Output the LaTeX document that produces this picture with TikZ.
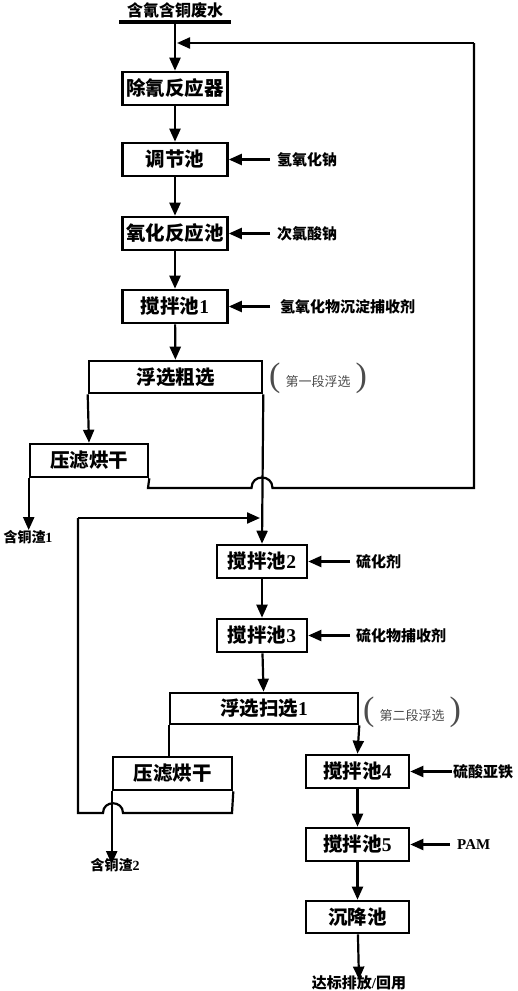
\documentclass[tikz,border=0pt]{standalone}
\usepackage{fontspec}
\newfontfamily\cjk{Noto Sans CJK SC}
\newfontfamily\tms{Liberation Serif}
\usetikzlibrary{arrows.meta}
\newcommand\dgt[1]{{\tms\bfseries #1}}
\newcommand\boxfont{\fontsize{19.5}{19.5}\selectfont\cjk\bfseries}
\newcommand\labfont{\fontsize{15}{15}\selectfont\cjk\bfseries}
\newcommand\notefont{\fontsize{13}{13}\selectfont\cjk}
\newcommand\parfont{\fontsize{34}{34}\selectfont\tms}
\begin{document}
\begin{tikzpicture}[x=1pt,y=-1pt,
  box/.style={draw,line width=2.6pt,inner sep=0pt,font=\boxfont},
  arr/.style={line width=2.2pt,-{Triangle[length=13pt,width=11pt]}},
  ln/.style={line width=2.2pt},
  lab/.style={font=\labfont,inner sep=0pt,anchor=west},
  note/.style={inner sep=0pt,text=black!70}]
\useasboundingbox[fill=white] (0,0) rectangle (517,991);

% title
\node[font=\fontsize{16}{16}\selectfont\cjk\bfseries,inner sep=0pt] (t) at (175,10) {含氰含铜废水};
\coordinate (tl) at (119,22);
\coordinate (tr) at (231,22);
\coordinate (tu) at (175,22);
\draw[line width=3.2pt] (tl) -- (tr);

% boxes column 1
\node[box,minimum width=105pt,minimum height=33pt] (b1) at (175,88.5) {除氰反应器};
\node[box,minimum width=105pt,minimum height=33pt] (b2) at (175,159.5) {调节池};
\node[box,minimum width=105pt,minimum height=33pt] (b3) at (175,233.5) {氧化反应池};
\node[box,minimum width=105pt,minimum height=33pt] (b4) at (175,306.5) {搅拌池\dgt{1}};
\node[box,minimum width=173pt,minimum height=32pt] (b5) at (175.5,377) {浮选粗选};
\node[box,minimum width=118pt,minimum height=33pt] (b6) at (89,460.5) {压滤烘干};

% column 2
\node[box,minimum width=90pt,minimum height=33pt] (b7) at (262,561.5) {搅拌池\dgt{2}};
\node[box,minimum width=90pt,minimum height=33pt] (b8) at (262,635.5) {搅拌池\dgt{3}};
\node[box,minimum width=188pt,minimum height=31pt] (b9) at (264,708.5) {浮选扫选\dgt{1}};
\node[box,minimum width=119pt,minimum height=33pt] (b10) at (172.5,773.5) {压滤烘干};

% column 3
\node[box,minimum width=103pt,minimum height=33pt] (b11) at (357.5,771.5) {搅拌池\dgt{4}};
\node[box,minimum width=103pt,minimum height=33pt] (b12) at (357.5,844.5) {搅拌池\dgt{5}};
\node[box,minimum width=103pt,minimum height=32pt] (b13) at (357.5,917) {沉降池};

% side labels
\node[lab] (l1) at (277,159.5) {氢氧化钠};
\node[lab] (l2) at (277,233.5) {次氯酸钠};
\node[lab] (l3) at (280,306.5) {氢氧化物沉淀捕收剂};
\node[lab] (l4) at (356,561.5) {硫化剂};
\node[lab] (l5) at (356,635.5) {硫化物捕收剂};
\node[lab] (l6) at (453,771.5) {硫酸亚铁};
\node[lab,font=\fontsize{15}{15}\selectfont\tms\bfseries] (l7) at (457,844.5) {PAM};

% outputs
\node[font=\fontsize{14}{14}\selectfont\cjk\bfseries,inner sep=0pt] (s1) at (28,537) {含铜渣\dgt{1}};
\node[font=\fontsize{14}{14}\selectfont\cjk\bfseries,inner sep=0pt] (s2) at (115,865) {含铜渣\dgt{2}};
\node[font=\fontsize{15}{15}\selectfont\cjk\bfseries,inner sep=0pt] (out) at (359,983) {达标排放\dgt{/}回用};

% notes
\node[note] (n1) at (318,378) {{\parfont(}\hspace{5pt}{\notefont 第一段浮选}\hspace{5pt}{\parfont)}};
\node[note] (n2) at (412,712) {{\parfont(}\hspace{5pt}{\notefont 第二段浮选}\hspace{5pt}{\parfont)}};

% main flow
\draw[arr] (tu) -- (b1);
\draw[arr] (b1) -- (b2);
\draw[arr] (b2) -- (b3);
\draw[arr] (b3) -- (b4);
\draw[arr] (b4) -- (b5);
\draw[arr] (b5.south west) -- (b6.north);
\draw[arr] (b6.south west) -- (s1.north -| b6.south west) ;
\draw[arr] (b5.south east) -- (b7.north);
\draw[arr] (b7) -- (b8);
\draw[arr] (b8) -- (b9);
\draw[ln] (b9.south west) -- (b9.south west |- b10.north);
\draw[arr] (b9.south east) -- (b11.north);
\draw[arr] (b10.south west) -- ([yshift=-6pt]s2.north -| b10.south west);
\draw[arr] (b11) -- (b12);
\draw[arr] (b12) -- (b13);
\draw[arr] (b13) -- ([yshift=-4pt]out.north);

% chemical inputs
\draw[arr] ([xshift=-7pt]l1.west) -- (b2.east);
\draw[arr] ([xshift=-7pt]l2.west) -- (b3.east);
\draw[arr] ([xshift=-10pt]l3.west) -- (b4.east);
\draw[arr] ([xshift=-6pt]l4.west) -- (b7.east);
\draw[arr] ([xshift=-6pt]l5.west) -- (b8.east);
\draw[arr] ([xshift=-1pt]l6.west) -- (b11.east);
\draw[arr] ([xshift=-7pt]l7.west) -- (b12.east);

% recycle loop 1
\coordinate (r1) at (474,43);
\coordinate (r1e) at (177,43);
\draw[ln,line join=miter] (b6.south east) -- (148,488) -- (251.5,488)
  .. controls (251.5,474) and (272.5,474) .. (272.5,488) -- (474,488) -- (r1);
\draw[arr] (r1) -- (r1e);

% recycle loop 2
\coordinate (r2) at (78,518);
\coordinate (r2e) at (260,518);
\draw[ln,line join=miter] (b10.south east) -- (232,813) -- (123,813)
  .. controls (123,800) and (103,800) .. (103,813) -- (78,813) -- (r2);
\draw[arr] (r2) -- (r2e);
\end{tikzpicture}
\end{document}
